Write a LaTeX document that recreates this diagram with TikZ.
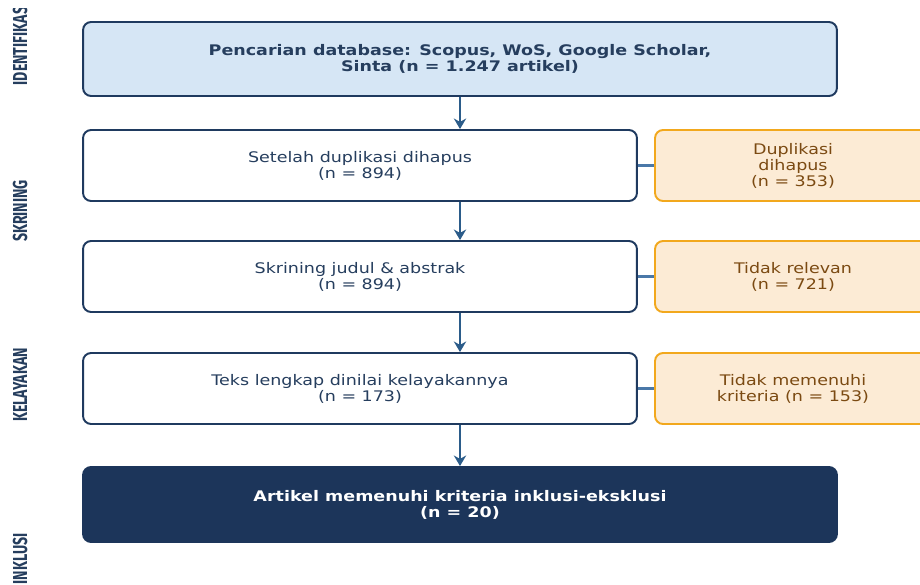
\documentclass[tikz,border=0pt]{standalone}
\usepackage{fontspec}
\setmainfont[FakeStretch=1.2]{DejaVu Sans}
\newfontfamily\sidefont[FakeStretch=0.7]{Fira Sans}
\usetikzlibrary{positioning,arrows.meta}

\definecolor{navyline}{HTML}{1F3A5F}
\definecolor{navytext}{HTML}{263E5E}
\definecolor{flowblue}{HTML}{2B5C8A}
\definecolor{sideblue}{HTML}{4A78A8}
\definecolor{skyfill}{HTML}{D6E6F5}
\definecolor{amberline}{HTML}{F2A81D}
\definecolor{amberfill}{HTML}{FCEBD5}
\definecolor{browntext}{HTML}{7B4A12}
\definecolor{navyfill}{HTML}{1C355A}

\tikzset{
  stagebox/.style={draw=navyline, line width=1.1pt, rounded corners=0.16cm, align=center,
    text=navytext, font=\fontsize{8.3}{9.1}\selectfont, minimum height=1.42cm, inner sep=0pt},
  exclbox/.style={draw=amberline, fill=amberfill, line width=1.1pt, rounded corners=0.16cm,
    align=center, text=browntext, font=\fontsize{8.3}{9.1}\selectfont,
    minimum width=5.52cm, minimum height=1.42cm, inner sep=0pt},
  phaselabel/.style={rotate=90, text=navytext, font=\sidefont\bfseries\fontsize{11.5}{12}\selectfont},
  flowarrow/.style={draw=flowblue, line width=1.4pt, -{Stealth[length=6pt,width=7pt]}},
  sideline/.style={draw=sideblue, line width=1.4pt}
}

\begin{document}
\begin{tikzpicture}[x=0.02cm, y=-0.02cm]
\useasboundingbox (0,0) rectangle (920,585);
\clip (0,0) rectangle (920,585);
\fill[white] (0,0) rectangle (920,585);

% phase labels
\begin{scope}
\clip (0,8) rectangle (60,585);
\node[phaselabel] (lident) at (20,44) {IDENTIFIKASI};
\node[phaselabel] (lskrin) at (20,211) {SKRINING};
\node[phaselabel] (lkelay) at (20,385) {KELAYAKAN};
\node[phaselabel] (linkl) at (20,559) {INKLUSI};
\end{scope}

% main flow
\node[stagebox, fill=skyfill, minimum width=15.08cm, minimum height=1.48cm, font=\bfseries\fontsize{8.3}{9.1}\selectfont] (search) at (460,59)
  {Pencarian database: Scopus, WoS, Google Scholar,\\Sinta (n = 1.247 artikel)};
\node[stagebox, fill=white, minimum width=11.08cm] (dedup) at (360,165.5)
  {Setelah duplikasi dihapus\\(n = 894)};
\node[stagebox, fill=white, minimum width=11.08cm] (screen) at (360,276.5)
  {Skrining judul \& abstrak\\(n = 894)};
\node[stagebox, fill=white, minimum width=11.08cm] (fulltext) at (360,388.5)
  {Teks lengkap dinilai kelayakannya\\(n = 173)};
\node[stagebox, draw=navyfill, fill=navyfill, text=white, minimum width=15.08cm, minimum height=1.5cm, font=\bfseries\fontsize{8.3}{9.1}\selectfont] (included) at (460,504.5)
  {Artikel memenuhi kriteria inklusi-eksklusi\\(n = 20)};

% exclusions
\node[exclbox] (exdup) at (793,165.5) {Duplikasi\\dihapus\\(n = 353)};
\node[exclbox] (exscreen) at (793,276.5) {Tidak relevan\\(n = 721)};
\node[exclbox] (exfull) at (793,388.5) {Tidak memenuhi\\kriteria (n = 153)};

% connectors
\draw[flowarrow] (search.south -| 460,0) -- (dedup.north -| 460,0);
\draw[flowarrow] (dedup.south -| 460,0) -- (screen.north -| 460,0);
\draw[flowarrow] (screen.south -| 460,0) -- (fulltext.north -| 460,0);
\draw[flowarrow] (fulltext.south -| 460,0) -- (included.north -| 460,0);
\draw[sideline] (dedup.east) -- (exdup.west);
\draw[sideline] (screen.east) -- (exscreen.west);
\draw[sideline] (fulltext.east) -- (exfull.west);
\end{tikzpicture}
\end{document}
